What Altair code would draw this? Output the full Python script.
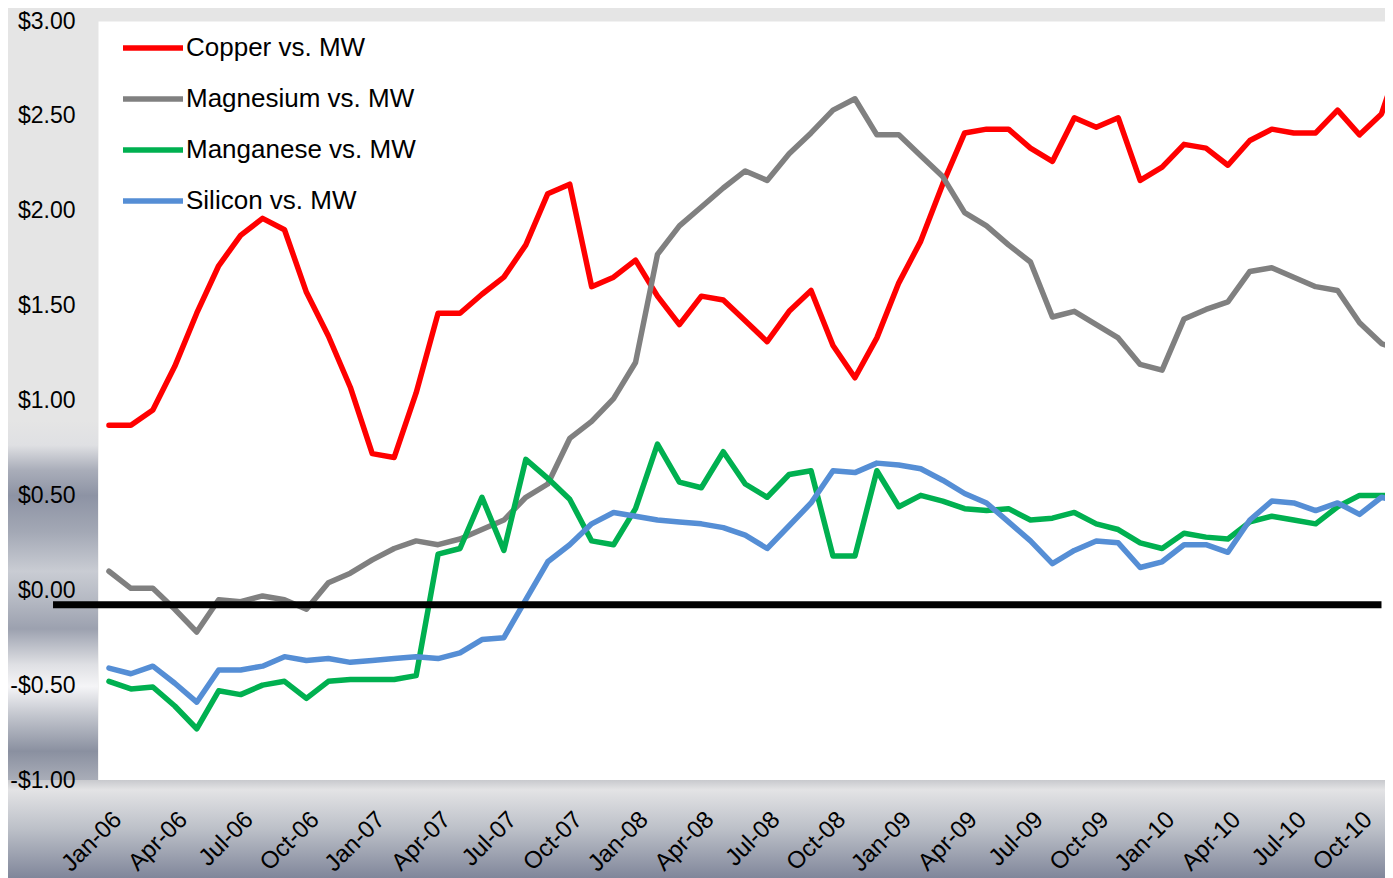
import altair as alt
import pandas as pd

# ---------------- data ----------------
month_labels = [f"{m}-{y:02d}" for y in range(6, 11)
                for m in ["Jan", "Feb", "Mar", "Apr", "May", "Jun",
                          "Jul", "Aug", "Sep", "Oct", "Nov", "Dec"]]

tick_positions = list(range(0, 58, 3))
tick_labels = ["Jan-06", "Apr-06", "Jul-06", "Oct-06", "Jan-07", "Apr-07", "Jul-07",
               "Oct-07", "Jan-08", "Apr-08", "Jul-08", "Oct-08", "Jan-09", "Apr-09",
               "Jul-09", "Oct-09", "Jan-10", "Apr-10", "Jul-10", "Oct-10"]

copper = [0.87, 0.87, 0.95, 1.18, 1.46, 1.71, 1.87, 1.96, 1.90, 1.57,
          1.34, 1.07, 0.72, 0.70, 1.04, 1.46, 1.46, 1.56, 1.65, 1.82,
          2.09, 2.14, 1.60, 1.65, 1.74, 1.55, 1.40, 1.55, 1.53, 1.42,
          1.31, 1.47, 1.58, 1.29, 1.12, 1.33, 1.62, 1.84, 2.14, 2.41,
          2.43, 2.43, 2.33, 2.26, 2.49, 2.44, 2.49, 2.16, 2.23, 2.35,
          2.33, 2.24, 2.37, 2.43, 2.41, 2.41, 2.53, 2.40, 2.51, 2.85]

magnesium = [0.10, 0.01, 0.01, -0.10, -0.22, -0.05, -0.06, -0.03, -0.05, -0.10,
             0.04, 0.09, 0.16, 0.22, 0.26, 0.24, 0.27, 0.32, 0.37, 0.49,
             0.56, 0.80, 0.89, 1.01, 1.20, 1.77, 1.92, 2.02, 2.12, 2.21,
             2.16, 2.30, 2.41, 2.53, 2.59, 2.40, 2.40, 2.29, 2.18, 1.99,
             1.92, 1.82, 1.73, 1.44, 1.47, 1.40, 1.33, 1.19, 1.16, 1.43,
             1.48, 1.52, 1.68, 1.70, 1.65, 1.60, 1.58, 1.41, 1.30, 1.26]

manganese = [-0.48, -0.52, -0.51, -0.61, -0.73, -0.53, -0.55, -0.50, -0.48, -0.57,
             -0.48, -0.47, -0.47, -0.47, -0.45, 0.19, 0.22, 0.49, 0.21, 0.69,
             0.59, 0.48, 0.26, 0.24, 0.43, 0.77, 0.57, 0.54, 0.73, 0.56,
             0.49, 0.61, 0.63, 0.18, 0.18, 0.63, 0.44, 0.50, 0.47, 0.43,
             0.42, 0.43, 0.37, 0.38, 0.41, 0.35, 0.32, 0.25, 0.22, 0.30,
             0.28, 0.27, 0.36, 0.39, 0.37, 0.35, 0.44, 0.50, 0.50, 0.50]

silicon = [-0.41, -0.44, -0.40, -0.49, -0.59, -0.42, -0.42, -0.40, -0.35, -0.37,
           -0.36, -0.38, -0.37, -0.36, -0.35, -0.36, -0.33, -0.26, -0.25, -0.05,
           0.15, 0.24, 0.35, 0.41, 0.39, 0.37, 0.36, 0.35, 0.33, 0.29,
           0.22, 0.34, 0.46, 0.63, 0.62, 0.67, 0.66, 0.64, 0.58, 0.51,
           0.46, 0.36, 0.26, 0.14, 0.21, 0.26, 0.25, 0.12, 0.15, 0.24,
           0.24, 0.20, 0.37, 0.47, 0.46, 0.42, 0.46, 0.40, 0.49, 0.46]

series_names = ["Copper vs. MW", "Magnesium vs. MW", "Manganese vs. MW", "Silicon vs. MW"]
series_colors = ["#FF0000", "#808080", "#00B050", "#558ED5"]

ref_line_value = -0.077
ref_line_start = -2.55
ref_line_end = 58.0

y_ticks = [-1.0, -0.5, 0.0, 0.5, 1.0, 1.5, 2.0, 2.5, 3.0]

rows = []
for name, vals in zip(series_names, [copper, magnesium, manganese, silicon]):
    for i, v in enumerate(vals):
        rows.append({"series": name, "m": i, "month": month_labels[i], "value": v})
df = pd.DataFrame(rows)

ref_df = pd.DataFrame({"m": [ref_line_start], "m2": [ref_line_end], "value": [ref_line_value]})

# ---------------- styling ----------------
FONT = "Liberation Sans"
W, H = 1287, 759

x_scale = alt.Scale(domain=[-0.5, 58.16], nice=False, zero=False)
y_scale = alt.Scale(domain=[-1, 3], nice=False, zero=False)

label_js = "[" + ",".join(f"'{t}'" for t in tick_labels) + "][round(datum.value/3)]"

x_axis = alt.Axis(values=tick_positions, labelExpr=label_js, labelAngle=-45,
                  labelAlign="right", labelBaseline="top", labelPadding=27,
                  labelFontSize=24, labelFont=FONT, labelColor="black",
                  ticks=False, tickSize=0, domain=False, grid=False, title=None,
                  labelOverlap=False, labelFlush=False, zindex=1)
y_axis = alt.Axis(values=y_ticks,
                  labelExpr="(datum.value < 0 ? '-' : '') + '$' + format(abs(datum.value), '.2f')",
                  labelFontSize=23, labelFont=FONT, labelColor="black", labelPadding=23,
                  ticks=False, tickSize=0, domain=False, grid=False, title=None,
                  labelFlush=False, labelOverlap=False, zindex=1)

X = alt.X("m:Q", scale=x_scale, axis=x_axis)
Y = alt.Y("value:Q", scale=y_scale, axis=y_axis)

one = alt.Data(values=[{"k": 1}])

left_band = alt.Chart(one).mark_rect(
    fill=alt.Gradient(
        gradient="linear", x1=0, y1=0, x2=0, y2=1,
        stops=[
            alt.GradientStop(offset=0.0, color="#e5e5e5"),
            alt.GradientStop(offset=0.07, color="#dfe0e3"),
            alt.GradientStop(offset=0.14, color="#a9adb9"),
            alt.GradientStop(offset=0.21, color="#8d93a4"),
            alt.GradientStop(offset=0.31, color="#a3a8b5"),
            alt.GradientStop(offset=0.42, color="#c9ccd3"),
            alt.GradientStop(offset=0.50, color="#b5b9c3"),
            alt.GradientStop(offset=0.58, color="#9ca1af"),
            alt.GradientStop(offset=0.68, color="#dfe0e4"),
            alt.GradientStop(offset=0.74, color="#f5f5f7"),
            alt.GradientStop(offset=0.82, color="#c3c6ce"),
            alt.GradientStop(offset=0.92, color="#8a90a0"),
            alt.GradientStop(offset=1.0, color="#a9adb8"),
        ])
).encode(x=alt.value(-90), x2=alt.value(0), y=alt.value(399), y2=alt.value(759))

bottom_band = alt.Chart(one).mark_rect(
    fill=alt.Gradient(
        gradient="linear", x1=0, y1=0, x2=0, y2=1,
        stops=[
            alt.GradientStop(offset=0.0, color="#c8c9cd"),
            alt.GradientStop(offset=0.10, color="#e3e3e5"),
            alt.GradientStop(offset=0.50, color="#bcc0c8"),
            alt.GradientStop(offset=1.0, color="#80869a"),
        ])
).encode(x=alt.value(-90), x2=alt.value(W), y=alt.value(H), y2=alt.value(H + 98))

lines = alt.Chart(df).mark_line(strokeWidth=5.5, clip=True, strokeCap="round",
                                strokeJoin="round").encode(
    x=X, y=Y,
    color=alt.Color("series:N",
                    scale=alt.Scale(domain=series_names, range=series_colors),
                    sort=series_names,
                    legend=alt.Legend(title=None, orient="none", legendX=22, legendY=1.5,
                                      symbolType="stroke", symbolSize=3600,
                                      symbolStrokeWidth=5.5, labelFontSize=26,
                                      labelFont=FONT, labelColor="black",
                                      labelOffset=0, clipHeight=51, rowPadding=0,
                                      padding=0, labelLimit=500)),
    order=alt.Order("m:Q"),
)

ref_rule = alt.Chart(ref_df).mark_rule(color="black", strokeWidth=7).encode(
    x=X, x2="m2:Q", y=Y)

chart = alt.layer(left_band, bottom_band, lines, ref_rule).properties(
    width=W, height=H,
    autosize=alt.AutoSizeParams(type="none"),
    padding={"left": 90, "top": 13, "right": 0, "bottom": 98},
    background="#e5e5e5",
).configure_view(fill="white", stroke="transparent")

chart.save("out.html", embed_options={"renderer": "svg", "actions": False})
